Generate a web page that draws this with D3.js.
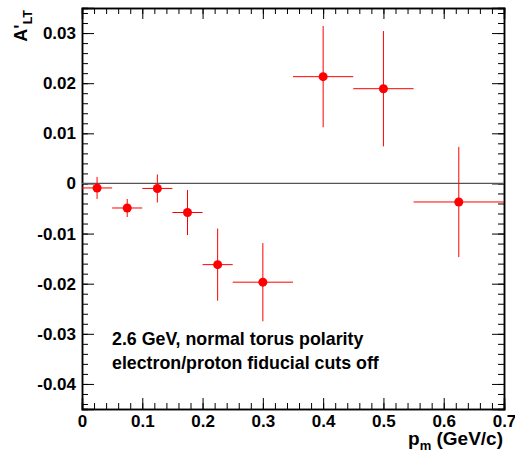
<!DOCTYPE html>
<html>
<head>
<meta charset="utf-8">
<script src="https://cdn.jsdelivr.net/npm/d3@7"></script>
<style>
  body { margin: 0; background: #fff; }
  text { font-family: "Liberation Sans", Arial, sans-serif; font-weight: bold; }
</style>
</head>
<body>
<svg id="chart"></svg>
<script>
// bin centres and half widths in p_m (GeV/c)
var pm     = [0.025, 0.075, 0.125, 0.175, 0.225, 0.30, 0.40, 0.50, 0.625];
var pmErr  = [0.025, 0.025, 0.025, 0.025, 0.025, 0.05, 0.05, 0.05, 0.075];
// A'_LT values and errors
var alt    = [-0.0009, -0.0049, -0.0010, -0.0058, -0.0162, -0.0197, 0.0213, 0.0189, -0.0037];
var altErr = [0.0022, 0.0018, 0.0028, 0.0045, 0.0072, 0.0078, 0.0101, 0.0115, 0.0110];

var xTicks = [0, 0.1, 0.2, 0.3, 0.4, 0.5, 0.6, 0.7];
var yTicks = [-0.04, -0.03, -0.02, -0.01, 0, 0.01, 0.02, 0.03];
var noteLines = ["2.6 GeV, normal torus polarity", "electron/proton fiducial cuts off"];

var width = 515, height = 453,
    padL = 82, padR = 504, padT = 8, padB = 409;

var svg = d3.select("#chart")
    .attr("width", width)
    .attr("height", height);

svg.append("rect").attr("width", width).attr("height", height).attr("fill", "#fff");

var x = d3.scaleLinear().domain([0, 0.7]).range([padL, padR]);
var y = d3.scaleLinear().domain([-0.045, 0.035]).range([padB, padT]);

var xMinor = d3.range(0, 0.7001, 0.02).map(function(v) { return +v.toFixed(3); });
var yMinor = d3.range(-0.044, 0.0351, 0.002).map(function(v) { return +v.toFixed(4); });

// ROOT style labels: plain hyphen, no trailing zeros
function fmt(v) { return v === 0 ? "0" : d3.format(".2~f")(v).replace("\u2212", "-"); }
function blank() { return ""; }

// bottom axis
svg.append("g").attr("class", "ax")
    .attr("transform", "translate(0," + padB + ")")
    .call(d3.axisBottom(x).tickValues(xMinor).tickSize(-6).tickFormat(blank));
svg.append("g").attr("class", "ax")
    .attr("transform", "translate(0," + padB + ")")
    .call(d3.axisBottom(x).tickValues(xTicks).tickSize(-11).tickPadding(6).tickFormat(fmt));
// top axis
svg.append("g").attr("class", "ax")
    .attr("transform", "translate(0," + padT + ")")
    .call(d3.axisTop(x).tickValues(xMinor).tickSize(-6).tickFormat(blank));
svg.append("g").attr("class", "ax")
    .attr("transform", "translate(0," + padT + ")")
    .call(d3.axisTop(x).tickValues(xTicks).tickSize(-11).tickFormat(blank));
// left axis
svg.append("g").attr("class", "ax")
    .attr("transform", "translate(" + padL + ",0)")
    .call(d3.axisLeft(y).tickValues(yMinor).tickSize(-6).tickFormat(blank));
svg.append("g").attr("class", "ax")
    .attr("transform", "translate(" + padL + ",0)")
    .call(d3.axisLeft(y).tickValues(yTicks).tickSize(-12).tickPadding(6).tickFormat(fmt));
// right axis
svg.append("g").attr("class", "ax")
    .attr("transform", "translate(" + padR + ",0)")
    .call(d3.axisRight(y).tickValues(yMinor).tickSize(-6).tickFormat(blank));
svg.append("g").attr("class", "ax")
    .attr("transform", "translate(" + padR + ",0)")
    .call(d3.axisRight(y).tickValues(yTicks).tickSize(-12).tickFormat(blank));

svg.selectAll(".ax path").attr("stroke", "#000").attr("stroke-width", 1.5);
svg.selectAll(".ax .tick line").attr("stroke", "#000").attr("stroke-width", 1);
svg.selectAll(".ax text")
    .attr("font-family", "Liberation Sans, Arial, sans-serif")
    .attr("font-weight", "bold")
    .attr("font-size", 17)
    .attr("fill", "#000");

// zero line
svg.append("line")
    .attr("x1", x(0)).attr("x2", x(0.7))
    .attr("y1", y(0)).attr("y2", y(0))
    .attr("stroke", "#555").attr("stroke-width", 1.3);

// data points with error bars
var pts = d3.range(pm.length);
var g = svg.append("g");
g.selectAll(".hbar").data(pts).enter().append("line")
    .attr("x1", function(i) { return x(pm[i] - pmErr[i]); })
    .attr("x2", function(i) { return x(pm[i] + pmErr[i]); })
    .attr("y1", function(i) { return y(alt[i]); })
    .attr("y2", function(i) { return y(alt[i]); })
    .attr("stroke", "#ff0000").attr("stroke-width", 1);
g.selectAll(".vbar").data(pts).enter().append("line")
    .attr("x1", function(i) { return x(pm[i]); })
    .attr("x2", function(i) { return x(pm[i]); })
    .attr("y1", function(i) { return y(alt[i] - altErr[i]); })
    .attr("y2", function(i) { return y(alt[i] + altErr[i]); })
    .attr("stroke", "#ff0000").attr("stroke-width", 1);
g.selectAll("circle").data(pts).enter().append("circle")
    .attr("cx", function(i) { return x(pm[i]); })
    .attr("cy", function(i) { return y(alt[i]); })
    .attr("r", 4.5)
    .attr("fill", "#ff0000");

// note
svg.selectAll(".note").data(noteLines).enter().append("text")
    .attr("x", 112)
    .attr("y", function(d, i) { return 345 + i * 23.5; })
    .attr("font-size", 17.8)
    .attr("fill", "#000")
    .text(function(d) { return d; });

// x title
var xt = svg.append("text")
    .attr("x", 503).attr("y", 445)
    .attr("text-anchor", "end")
    .attr("font-size", 19);
xt.append("tspan").text("p");
xt.append("tspan").attr("font-size", 13).attr("dy", 5).text("m");
xt.append("tspan").attr("dy", -5).text(" (GeV/c)");

// y title
var yt = svg.append("text")
    .attr("transform", "translate(27,10) rotate(-90)")
    .attr("text-anchor", "end")
    .attr("font-size", 18);
yt.append("tspan").text("A'");
yt.append("tspan").attr("font-size", 12.5).attr("dy", 5).text("LT");
</script>
</body>
</html>
